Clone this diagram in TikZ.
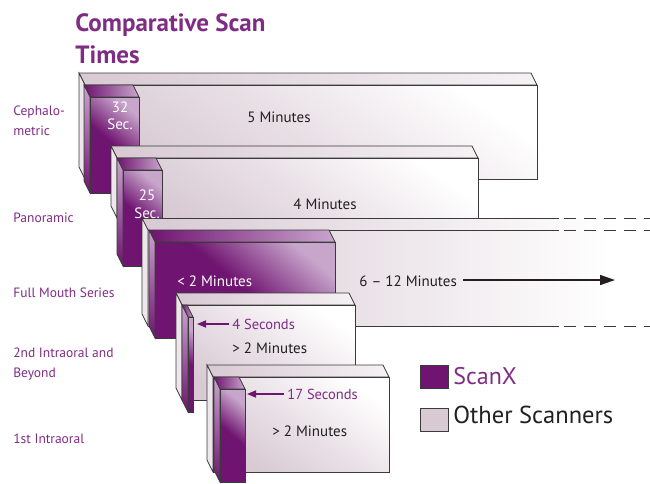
\documentclass[tikz,border=0pt]{standalone}
\usepackage{fontspec}
\setmainfont{PT Sans}
\usetikzlibrary{arrows.meta,positioning}
\definecolor{scanx}{HTML}{6F1470}
\definecolor{scanlite}{HTML}{C8A6CC}
\definecolor{othergrey}{HTML}{D8C9D3}
\definecolor{labelpurple}{HTML}{7E2C84}
\definecolor{edgegrey}{HTML}{3A3A3A}
\definecolor{ink}{HTML}{231F20}
\tikzset{%
	other top/.style   = {draw=edgegrey, left color=othergrey, right color=othergrey!25!white},
	other side/.style  = {draw=edgegrey, fill=othergrey!45!white},
	other front/.style = {draw=edgegrey, top color=white, bottom color=othergrey, middle color=othergrey!55!white, shading angle=-35},
	scan top/.style    = {draw=edgegrey, left color=scanx, right color=scanlite},
	scan side/.style   = {draw=edgegrey, top color=scanlite, bottom color=scanx},
	scan front/.style  = {draw=edgegrey, top color=scanlite, bottom color=scanx, middle color=scanx, shading angle=-40},
	fade/.style        = {left color=othergrey, right color=white}, % long box
}
\tikzset{%
	title/.style     = {text=labelpurple, font=\fontsize{25}{29}\selectfont\bfseries, anchor=base west, inner sep=0pt},
	rowlabel/.style  = {text=labelpurple, font=\fontsize{13.5}{16}\selectfont, anchor=base west, inner sep=0pt},
	boxtext/.style   = {text=ink, font=\fontsize{15}{17}\selectfont, anchor=base west, inner sep=0pt},
	scantext/.style  = {text=white, font=\fontsize{15}{17}\selectfont, anchor=base, inner sep=0pt},
	sectext/.style   = {text=labelpurple, font=\fontsize{14.5}{17}\selectfont, anchor=base west, inner sep=0pt},
	legendkey/.style = {draw=edgegrey, minimum width=28pt, minimum height=23pt, inner sep=0pt},
	pointer/.style   = {draw=scanx, line width=1.5pt, -{Triangle[length=9pt,width=7pt]}},
	longarrow/.style = {draw=ink, line width=1.5pt, -{Triangle[length=15pt,width=10pt]}},
}
% box with top and left face: style, x1, y1, x2, y2 of the front face
\newcommand{\slab}[5]{%
	\draw[#1 top]   (#2,#3) -- (#4,#3) -- ({#4-6},{#3-12}) -- ({#2-6},{#3-12}) -- cycle;
	\draw[#1 side]  (#2,#3) -- ({#2-6},{#3-12}) -- ({#2-6},{#5-12}) -- (#2,#5) -- cycle;
	\draw[#1 front] (#2,#3) rectangle (#4,#5);
}
\begin{document}
\begin{tikzpicture}[x=1pt, y=-1pt, line width=0.7pt]
	\useasboundingbox (0,0) rectangle (650,483);

	% Cephalometric
	\slab{other}{85}{85}{537}{179}
	\slab{scan}{90}{97}{139}{193}
	% Panoramic
	\slab{other}{117}{158}{478}{218}
	\slab{scan}{123}{170}{162}{266}
	% Full Mouth Series
	\shade[fade] (142,218) -- (610,218) -- (610,230) -- (148,230) -- cycle;
	\shade[fade] (148,230) rectangle (610,326);
	\draw[other side] (148,230) -- (142,218) -- (142,314) -- (148,326) -- cycle;
	\draw[edgegrey] (142,218) -- (559,218) (148,230) -- (559,230) (148,326) -- (559,326);
	\draw[edgegrey, dash pattern=on 12pt off 8pt] (564,218) -- (650,218) (564,230) -- (650,230) (564,326) -- (650,326);
	\slab{scan}{155}{242}{335}{338}
	% 2nd Intraoral and Beyond
	\slab{other}{182}{305}{355}{400}
	\slab{scan}{188}{317}{193}{412}
	% 1st Intraoral
	\slab{other}{213}{377}{389}{472}
	\slab{scan}{220}{389}{245}{482}

	\node[title] (title1) at (75,31) {Comparative Scan};
	\node[title] (title2) at (75,63) {Times};

	\node[rowlabel] (ceph1) at (13,115) {Cephalo-};
	\node[rowlabel] (ceph2) at (13,135) {metric};
	\node[rowlabel] (pano) at (13,222) {Panoramic};
	\node[rowlabel] (fms) at (13,297) {Full Mouth Series};
	\node[rowlabel] (intra1) at (13,357) {2nd Intraoral and};
	\node[rowlabel] (intra2) at (13,377) {Beyond};
	\node[rowlabel] (first) at (13,443) {1st Intraoral};

	\node[scantext] (sec32) at (120,112) {32};
	\node[scantext] (sec32b) at (120,129) {Sec.};
	\node[boxtext] (min5) at (247,122) {5 Minutes};
	\node[scantext] (sec25) at (147,200) {25};
	\node[scantext] (sec25b) at (147,218) {Sec.};
	\node[boxtext] (min4) at (293,209) {4 Minutes};
	\node[scantext, anchor=base west] (min2) at (177,286) {< 2 Minutes};
	\node[boxtext] (min612) at (359,286) {6 -- 12 Minutes};
	\node[sectext] (sec4) at (232,329) {4 Seconds};
	\node[boxtext] (gt2a) at (232,353) {> 2 Minutes};
	\node[sectext] (sec17) at (287,399) {17 Seconds};
	\node[boxtext] (gt2b) at (272,436) {> 2 Minutes};

	\coordinate (p4edge) at (197,324);
	\coordinate (p5edge) at (247,394);
	\coordinate (fadeend) at (615,280);
	\draw[pointer] (sec4.west |- p4edge) ++(-3,0) -- (p4edge);
	\draw[pointer] (sec17.west |- p5edge) ++(-3,0) -- (p5edge);
	\draw[longarrow] (min612.east |- fadeend) ++(6,0) -- (fadeend);

	\node[legendkey, fill=scanx] (keyscan) at (434,376.5) {};
	\node[legendkey, fill=othergrey] (keyother) at (434,419.5) {};
	\node[text=labelpurple, font=\fontsize{24}{28}\selectfont, anchor=base west, inner sep=0pt] (scanname) at (453,384) {ScanX};
	\node[text=ink, font=\fontsize{24.5}{28}\selectfont, anchor=base west, inner sep=0pt] (othername) at (453,423) {Other Scanners};
\end{tikzpicture}
\end{document}
